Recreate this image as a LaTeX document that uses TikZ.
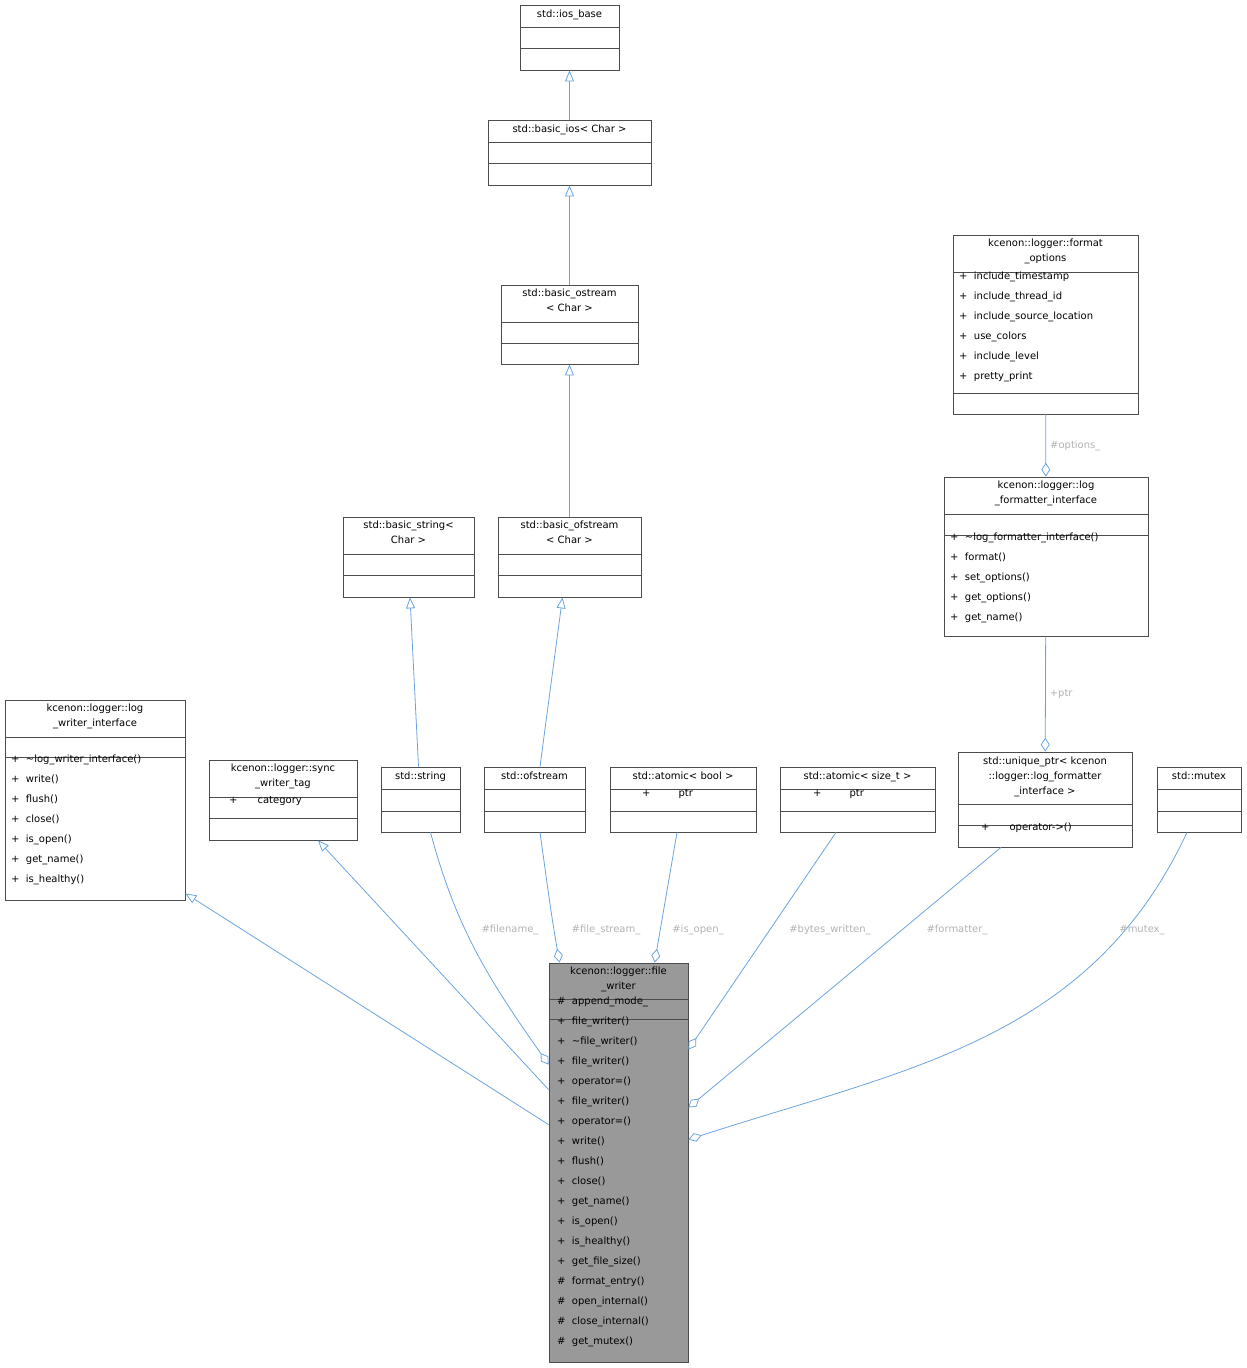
\documentclass[tikz,border=0pt]{standalone}
\usepackage{fontspec}
\setmainfont{DejaVu Sans}
\usetikzlibrary{arrows.meta,fit,positioning}

\tikzset{
  cls/.style={draw=black!70,inner sep=0pt,line width=0.8pt},
  ttl/.style={anchor=north,align=center,inner sep=0pt,font=\fontsize{10}{15}\selectfont},
  mbr/.style={anchor=north west,align=left,inner sep=0pt,font=\fontsize{10}{20}\selectfont},
  inh/.style={draw=cyan!60!blue!60,line width=0.8pt,-{Triangle[open,length=11pt,width=9pt]}},
  agg/.style={draw=cyan!60!blue!60,line width=0.8pt,-{Diamond[open,length=14pt,width=9pt]}},
  lbl/.style={text=black!30,font=\fontsize{10}{12}\selectfont,inner sep=0pt}
}
% box: name, x1, y1, x2, y2
\newcommand{\umlbox}[6][]{%
  \node[cls,#1,fit={(#3,#4)(#5,#6)}] (#2) {};}
\newcommand{\sepline}[3]{\draw[black!70,line width=0.8pt] (#1.west|-0,#3) -- (#1.east|-0,#3);}

\begin{document}
\begin{tikzpicture}[x=1pt,y=-1pt]
\useasboundingbox (0,0) rectangle (1247,1368);

% classes
\umlbox{ios}{520}{5}{619}{70}
\node[ttl] at (569.5,10) {std::ios\_base};
\sepline{ios}{}{27} \sepline{ios}{}{48}

\umlbox{bios}{488}{120}{651}{185}
\node[ttl] at (569.5,125) {std::basic\_ios< Char >};
\sepline{bios}{}{142} \sepline{bios}{}{163}

\umlbox{bost}{501}{285}{638}{364}
\node[ttl] at (569.5,289) {std::basic\_ostream\\< Char >};
\sepline{bost}{}{322} \sepline{bost}{}{343}

\umlbox{bofs}{498}{517}{641}{597}
\node[ttl] at (569.5,521) {std::basic\_ofstream\\< Char >};
\sepline{bofs}{}{554} \sepline{bofs}{}{575}

\umlbox{bstr}{343}{517}{474}{597}
\node[ttl] at (408.5,521) {std::basic\_string<\\Char >};
\sepline{bstr}{}{554} \sepline{bstr}{}{575}

\umlbox{fopt}{953}{235}{1138}{414}
\node[ttl] at (1045.5,239) {kcenon::logger::format\\\_options};
\sepline{fopt}{}{272}
\node[mbr] at (959,272) {+\ \ include\_timestamp\\+\ \ include\_thread\_id\\+\ \ include\_source\_location\\+\ \ use\_colors\\+\ \ include\_level\\+\ \ pretty\_print};
\sepline{fopt}{}{393}

\umlbox{lfi}{944}{477}{1148}{636}
\node[ttl] at (1046,481) {kcenon::logger::log\\\_formatter\_interface};
\sepline{lfi}{}{514} \sepline{lfi}{}{535}
\node[mbr] at (950,533) {+\ \ \textasciitilde log\_formatter\_interface()\\+\ \ format()\\+\ \ set\_options()\\+\ \ get\_options()\\+\ \ get\_name()};

\umlbox{lwi}{5}{700}{185}{900}
\node[ttl] at (95,704) {kcenon::logger::log\\\_writer\_interface};
\sepline{lwi}{}{737} \sepline{lwi}{}{757}
\node[mbr] at (11,755) {+\ \ \textasciitilde log\_writer\_interface()\\+\ \ write()\\+\ \ flush()\\+\ \ close()\\+\ \ is\_open()\\+\ \ get\_name()\\+\ \ is\_healthy()};

\umlbox{swt}{209}{760}{357}{840}
\node[ttl] at (283,764) {kcenon::logger::sync\\\_writer\_tag};
\sepline{swt}{}{797}
\node[mbr] at (229,796) {+\hspace{20pt}category};
\sepline{swt}{}{818}

\umlbox{str}{381}{767}{460}{832}
\node[ttl] at (420.5,772) {std::string};
\sepline{str}{}{789} \sepline{str}{}{811}

\umlbox{ofs}{484}{767}{585}{832}
\node[ttl] at (534.5,772) {std::ofstream};
\sepline{ofs}{}{789} \sepline{ofs}{}{811}

\umlbox{abool}{610}{767}{756}{832}
\node[ttl] at (683,772) {std::atomic< bool >};
\sepline{abool}{}{789}
\node[mbr] at (642,789) {+\hspace{28pt}ptr};
\sepline{abool}{}{811}

\umlbox{asize}{780}{767}{935}{832}
\node[ttl] at (857.5,772) {std::atomic< size\_t >};
\sepline{asize}{}{789}
\node[mbr] at (813,789) {+\hspace{28pt}ptr};
\sepline{asize}{}{811}

\umlbox{uptr}{958}{752}{1132}{847}
\node[ttl] at (1045,757) {std::unique\_ptr< kcenon\\::logger::log\_formatter\\\_interface >};
\sepline{uptr}{}{804} \sepline{uptr}{}{825}
\node[mbr] at (981,823) {+\hspace{20pt}operator->()};

\umlbox{mtx}{1157}{767}{1241}{832}
\node[ttl] at (1199,772) {std::mutex};
\sepline{mtx}{}{789} \sepline{mtx}{}{811}

\umlbox[fill=black!40]{fw}{549}{963}{688}{1362}
\node[ttl] at (618.5,967) {kcenon::logger::file\\\_writer};
\sepline{fw}{}{999}
\node[mbr] at (557,997) {\#\ \ append\_mode\_};
\sepline{fw}{}{1019}
\node[mbr] at (557,1017) {+\ \ file\_writer()\\+\ \ \textasciitilde file\_writer()\\+\ \ file\_writer()\\+\ \ operator=()\\+\ \ file\_writer()\\+\ \ operator=()\\+\ \ write()\\+\ \ flush()\\+\ \ close()\\+\ \ get\_name()\\+\ \ is\_open()\\+\ \ is\_healthy()\\+\ \ get\_file\_size()\\\#\ \ format\_entry()\\\#\ \ open\_internal()\\\#\ \ close\_internal()\\\#\ \ get\_mutex()};

% inheritance
\draw[inh] (bios) -- (ios);
\draw[inh] (bost) -- (bios);
\draw[inh] (bofs) -- (bost);
\draw[inh] ([xshift=-2pt]str.north) -- ([xshift=1.5pt]bstr.south);
\draw[inh] ([xshift=5.5pt]ofs.north) -- ([xshift=-7pt]bofs.south);
\draw[inh] ([yshift=-162pt]fw.north west) -- ([yshift=7pt]lwi.south east);
\draw[inh] ([yshift=-127pt]fw.north west) -- ([xshift=35pt]swt.south);

% aggregation
\draw[agg] (fopt) -- (lfi) node[lbl,midway,right=4pt] {\#options\_};
\draw[agg] (lfi) -- (uptr) node[lbl,midway,right=4pt] {+ptr};
\draw[agg] ([xshift=10pt]str.south) to[out=-75,in=125] ([yshift=-102pt]fw.north west);
\draw[agg] ([xshift=5.5pt]ofs.south) to[out=-82,in=100] ([xshift=11pt]fw.north west);
\draw[agg] ([xshift=-6pt]abool.south) -- ([xshift=106pt]fw.north west);
\draw[agg] ([xshift=-21.5pt]asize.south) -- ([yshift=-87pt]fw.north east);
\draw[agg] ([xshift=-44pt]uptr.south) -- ([yshift=-145pt]fw.north east);
\draw[agg] ([xshift=-12pt]mtx.south) to[out=-115,in=18] ([yshift=-177pt]fw.north east);

% labels
\node[lbl] at (510,930) {\#filename\_};
\node[lbl] at (606,930) {\#file\_stream\_};
\node[lbl] at (698,930) {\#is\_open\_};
\node[lbl] at (830,930) {\#bytes\_written\_};
\node[lbl] at (957,930) {\#formatter\_};
\node[lbl] at (1142,930) {\#mutex\_};
\end{tikzpicture}
\end{document}
